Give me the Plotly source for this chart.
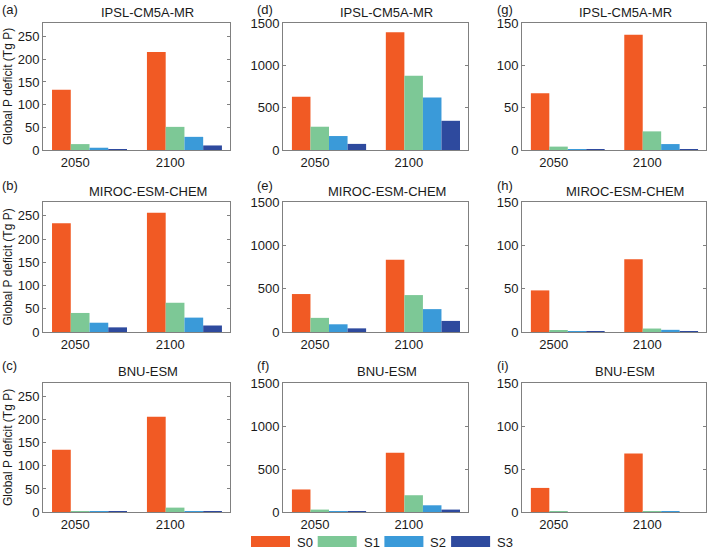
import plotly.graph_objects as go
from plotly.subplots import make_subplots

W, H = 709, 549

scenarios = ['S0', 'S1', 'S2', 'S3']
colors = ['#F15A24', '#7DC896', '#3A9AD9', '#2E4A9E']

models = ['IPSL-CM5A-MR', 'MIROC-ESM-CHEM', 'BNU-ESM']
letters = [['(a)', '(d)', '(g)'], ['(b)', '(e)', '(h)'], ['(c)', '(f)', '(i)']]
year_labels = [[['2050', '2100'], ['2050', '2100'], ['2050', '2100']],
               [['2050', '2100'], ['2050', '2100'], ['2500', '2100']],
               [['2050', '2100'], ['2050', '2100'], ['2050', '2100']]]

# values per panel: [S0, S1, S2, S3] for 2050 and 2100
ipsl_a = {'2050': [133, 13, 5, 0.5], '2100': [216, 51, 29, 10]}
miroc_b = {'2050': [234, 41, 20, 10], '2100': [257, 63, 31, 14]}
bnu_c = {'2050': [135, 0.5, 0.5, 0.3], '2100': [207, 9.5, 1.5, 0.5]}

ipsl_d = {'2050': [628, 275, 165, 72], '2100': [1392, 876, 621, 345]}
miroc_e = {'2050': [438, 163, 89, 42], '2100': [833, 426, 264, 128]}
bnu_f = {'2050': [262, 28, 8, 3], '2100': [689, 195, 78, 28]}

ipsl_g = {'2050': [67, 4, 1, 0.5], '2100': [136, 22, 7, 1]}
miroc_h = {'2050': [48, 2, 1, 0.3], '2100': [84, 4, 2.5, 0.5]}
bnu_i = {'2050': [28, 0.3, 0, 0], '2100': [68, 1, 0.3, 0]}

panels = [[ipsl_a, ipsl_d, ipsl_g],
          [miroc_b, miroc_e, miroc_h],
          [bnu_c, bnu_f, bnu_i]]

y_ranges = [[0, 280], [0, 1500], [0, 150]]
y_ticks = [[0, 50, 100, 150, 200, 250], [0, 500, 1000, 1500], [0, 50, 100, 150]]

# pixel layout of the panels
col_px = [(43, 230), (283, 468), (522, 706)]
row_px = [(23, 150), (202, 332), (383, 512)]
title_y = [13, 192, 371]
letter_y = [9, 186, 365]
letter_x = [0, 255, 495]

font = 'Liberation Sans, Arial, sans-serif'
ink = '#1a1a1a'
frame = '#808080'

fig = make_subplots(rows=3, cols=3)

for r in range(3):
    for c in range(3):
        data = panels[r][c]
        for k, s in enumerate(scenarios):
            fig.add_trace(go.Bar(x=[1, 2], y=[data['2050'][k], data['2100'][k]], name=s,
                                 marker=dict(color=colors[k], line=dict(width=0)),
                                 showlegend=False), row=r + 1, col=c + 1)
        x0, x1 = col_px[c]
        top, bot = row_px[r]
        fig.update_xaxes(domain=[x0 / W, x1 / W], range=[0.51, 2.48], automargin=False,
                         tickvals=[0.85, 1.85], ticktext=year_labels[r][c],
                         ticks='', showgrid=False, zeroline=False,
                         showline=True, linecolor=frame, linewidth=1, mirror=True,
                         tickfont=dict(size=13, color=ink, family=font),
                         row=r + 1, col=c + 1)
        fig.update_yaxes(domain=[1 - bot / H, 1 - top / H], range=y_ranges[c], automargin=False,
                         tickvals=y_ticks[c], ticks='inside', ticklen=3, tickcolor=frame,
                         showgrid=False, zeroline=False,
                         showline=True, linecolor=frame, linewidth=1, mirror='ticks',
                         tickfont=dict(size=13, color=ink, family=font),
                         row=r + 1, col=c + 1)
        fig.add_annotation(x=((x0 + x1) / 2 + 11) / W, y=1 - title_y[r] / H, xref='paper', yref='paper',
                           text=models[r], showarrow=False, xanchor='center', yanchor='middle',
                           font=dict(size=13, color=ink, family=font))
        fig.add_annotation(x=letter_x[c] / W, y=1 - letter_y[r] / H, xref='paper', yref='paper',
                           text=letters[r][c], showarrow=False, xanchor='left', yanchor='middle',
                           font=dict(size=13, color=ink, family=font))
    top, bot = row_px[r]
    fig.add_annotation(x=7.5 / W, y=1 - (top + bot) / 2 / H, xref='paper', yref='paper',
                       text='Global P deficit (Tg P)', textangle=-90, showarrow=False,
                       xanchor='center', yanchor='middle',
                       font=dict(size=12, color=ink, family=font))

# legend drawn along the bottom
for k, s in enumerate(scenarios):
    lx = 251 + k * 66.7
    fig.add_shape(type='rect', xref='paper', yref='paper',
                  x0=lx / W, x1=(lx + 39) / W, y0=1 - 547 / H, y1=1 - 536 / H,
                  fillcolor=colors[k], line=dict(width=0))
    fig.add_annotation(x=(lx + 44) / W, y=1 - 542 / H, xref='paper', yref='paper',
                       text=s, showarrow=False, xanchor='left', yanchor='middle',
                       font=dict(size=13, color=ink, family=font))

fig.update_layout(width=W, height=H, margin=dict(l=0, r=0, t=0, b=0, autoexpand=False),
                  barmode='group', bargap=0.21, bargroupgap=0,
                  paper_bgcolor='white', plot_bgcolor='white',
                  font=dict(family=font, color=ink))

# page body has a default 8px margin; drop it so the figure sits at the window corner
fig.write_html('out.html', config={'displayModeBar': False},
               post_script="document.body.style.margin='0px';")
